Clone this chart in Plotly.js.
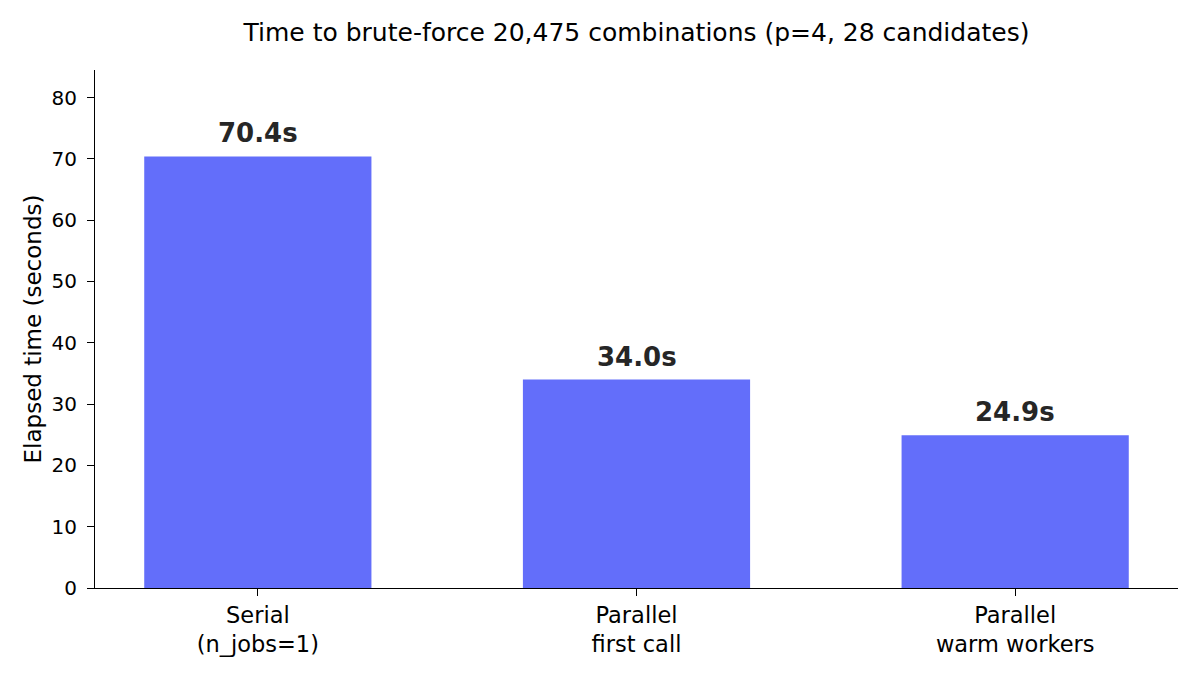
<!DOCTYPE html>
<html>
<head>
<meta charset="utf-8">
<script src="https://cdn.plot.ly/plotly-3.0.1.min.js"></script>
<style>
  html, body { margin: 0; padding: 0; background: #fff; }
  #chart { width: 1200px; height: 675px; }
</style>
</head>
<body>
<div id="chart"></div>
<script>
// run labels and measured times
var categories = ['Serial<br>(n_jobs=1)', 'Parallel<br>first call', 'Parallel<br>warm workers'];
var seconds = [70.4, 34.0, 24.9];
var positions = [0, 1, 2];

var font = 'DejaVu Sans, Liberation Sans, sans-serif';

var bars = {
    x: positions,
    y: seconds,
    type: 'bar',
    width: 0.6,
    marker: { color: '#636EFA' },
    hoverinfo: 'none'
};

// value labels just above each bar
var labels = seconds.map(function (v, i) {
    return {
        x: positions[i],
        y: v,
        text: v.toFixed(1) + 's',
        showarrow: false,
        yanchor: 'bottom',
        yshift: 6,
        font: { family: font, size: 26, color: '#262626', weight: 'bold' }
    };
});

var layout = {
    width: 1200,
    height: 675,
    margin: { l: 95, r: 22, t: 70, b: 87 },
    paper_bgcolor: '#fff',
    plot_bgcolor: '#fff',
    showlegend: false,
    font: { family: font, color: '#000' },
    title: {
        text: 'Time to brute-force 20,475 combinations (p=4, 28 candidates)',
        x: 0.5,
        xanchor: 'center',
        xref: 'paper',
        y: 0.965,
        yanchor: 'top',
        font: { family: font, size: 25, color: '#000' }
    },
    xaxis: {
        range: [-0.43, 2.43],
        tickvals: positions,
        ticktext: categories,
        ticks: 'outside',
        ticklen: 7,
        tickcolor: '#000',
        showline: true,
        linecolor: '#000',
        linewidth: 1,
        showgrid: false,
        zeroline: false,
        tickfont: { family: font, size: 22.5, color: '#000' }
    },
    yaxis: {
        range: [0, 84.5],
        dtick: 10,
        ticks: 'outside',
        ticklen: 7,
        tickcolor: '#000',
        ticklabelstandoff: 6,
        showline: true,
        linecolor: '#000',
        linewidth: 1,
        showgrid: false,
        zeroline: false,
        tickfont: { family: font, size: 20, color: '#000' },
        title: { text: 'Elapsed time (seconds)', font: { family: font, size: 23, color: '#000' }, standoff: 3 }
    },
    annotations: labels
};

Plotly.newPlot('chart', [bars], layout, { displayModeBar: false, staticPlot: true });
</script>
</body>
</html>
